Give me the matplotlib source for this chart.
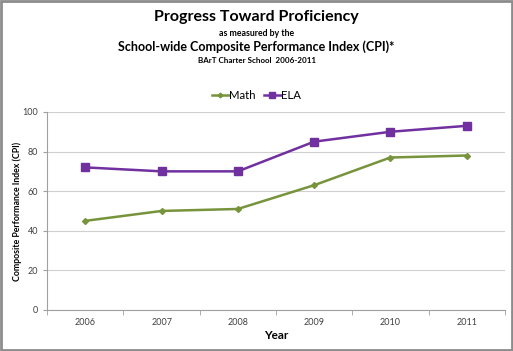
import matplotlib
matplotlib.use("Agg")
import matplotlib.pyplot as plt
from matplotlib.patches import Rectangle

plt.rcParams['font.family'] = ['Lato', 'DejaVu Sans']

# Data
years = ['2006', '2007', '2008', '2009', '2010', '2011']
math_cpi = [45, 50, 51, 63, 77, 78]
ela_cpi = [72, 70, 70, 85, 90, 93]

MATH_COLOR = '#77933C'
ELA_COLOR = '#7030A0'

fig = plt.figure(figsize=(5.13, 3.51), dpi=100)
ax = fig.add_axes([0.092, 0.117, 0.892, 0.564])

x = list(range(len(years)))
ax.plot(x, math_cpi, color=MATH_COLOR, lw=1.8, marker='D', ms=3, label='Math')
ax.plot(x, ela_cpi, color=ELA_COLOR, lw=1.8, marker='s', ms=5.5, label='ELA')

ax.set_xlim(-0.5, len(years) - 0.5)
ax.set_ylim(0, 100)
ax.set_yticks(range(0, 101, 20))
ax.set_xticks(x)
ax.set_xticklabels(years)
ax.set_xticks([i - 0.5 for i in range(len(years) + 1)], minor=True)
ax.tick_params(axis='x', which='major', length=0, pad=6, labelsize=6.5, colors='#404040')
ax.tick_params(axis='x', which='minor', length=3.5, color='#a0a0a0')
ax.tick_params(axis='y', length=3, color='#a0a0a0', labelsize=6.5, labelcolor='#404040')
ax.grid(axis='y', color='#d0d0d0', lw=0.8)
ax.set_axisbelow(True)
for s in ['top', 'right']:
    ax.spines[s].set_visible(False)
for s in ['left', 'bottom']:
    ax.spines[s].set_color('#a0a0a0')
    ax.spines[s].set_linewidth(0.8)

ax.set_xlabel('Year', fontsize=8.5, fontweight='bold', labelpad=2)
ax.set_ylabel('Composite Performance Index (CPI)', fontsize=6.3, fontweight='bold', labelpad=0.5)

fig.text(0.5, 0.952, 'Progress Toward Proficiency', ha='center', va='center', fontsize=11.5, fontweight='bold')
fig.text(0.5, 0.905, 'as measured by the', ha='center', va='center', fontsize=6.3, fontweight='bold')
fig.text(0.5, 0.866, 'School-wide Composite Performance Index (CPI)*', ha='center', va='center', fontsize=9, fontweight='bold')
fig.text(0.5, 0.829, 'BArT Charter School  2006-2011', ha='center', va='center', fontsize=5.8, fontweight='bold')

ax.legend(loc='center', bbox_to_anchor=(0.5, 0.728), bbox_transform=fig.transFigure, ncol=2, frameon=False,
          fontsize=8.2, handlelength=1.5, handletextpad=0.05, columnspacing=0.7, markerscale=0.8)

fig.patches.append(Rectangle((0.002, 0.003), 0.996, 0.994, transform=fig.transFigure, fill=False,
                             edgecolor='#8c8c8c', lw=2))

fig.savefig('out.png', dpi=100)
